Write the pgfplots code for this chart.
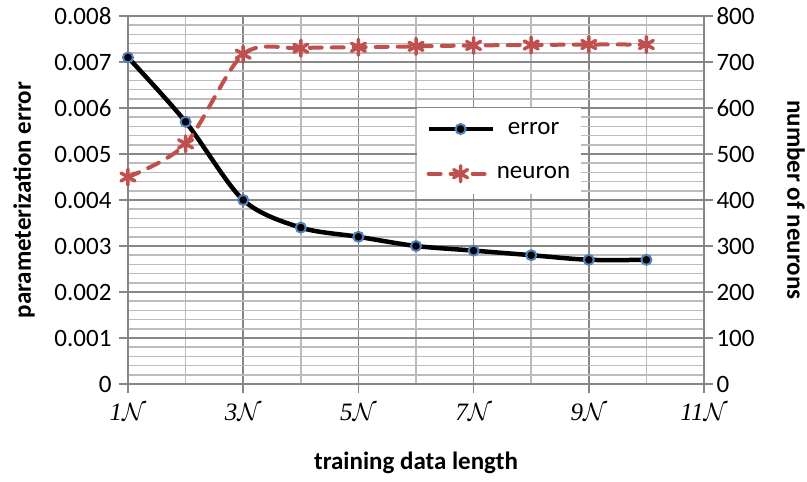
\documentclass[border=0pt]{standalone}
\usepackage{pgfplots}
\pgfplotsset{compat=1.18}
\usepackage{fontspec}
\setmainfont{Carlito}
\newfontfamily\serifr{Liberation Serif}
\definecolor{majgrid}{RGB}{134,134,134}
\definecolor{mingrid}{RGB}{188,188,188}
\definecolor{eblue}{RGB}{79,129,189}
\definecolor{nred}{RGB}{192,80,77}
\newcommand{\xl}[1]{{\serifr\itshape #1}$\mathcal{N}$}
\begin{document}
\begin{tikzpicture}
\pgfplotsset{
  every axis/.append style={
    scale only axis, width=576pt, height=368pt,
    xmin=1, xmax=11, clip=false,
    font=\fontsize{25}{29}\selectfont,
    /pgf/number format/assume math mode=true,
    axis line style={majgrid, line width=1.5pt},
    tick style={majgrid, line width=1.5pt},
    tick align=outside, major tick length=9pt, minor tick length=0pt,
  },
  errstyle/.style={black, line width=4.5pt, smooth, mark=*, mark size=5pt,
    mark options={draw=eblue, fill=black, line width=2pt}},
  neustyle/.style={nred, line width=4pt, dash pattern=on 12pt off 10pt, line cap=round, smooth,
    mark=asterisk, mark size=8pt, mark options={solid, line width=3.5pt}},
}
\begin{axis}[
  ymin=0, ymax=0.008,
  ytick={0,0.001,0.002,0.003,0.004,0.005,0.006,0.007,0.008},
  yticklabels={0,0.001,0.002,0.003,0.004,0.005,0.006,0.007,0.008},
  minor y tick num=4,
  scaled y ticks=false,
  xtick={1,3,5,7,9,11},
  xticklabels={\xl{1},\xl{3},\xl{5},\xl{7},\xl{9},\xl{11}},
  minor xtick={2,4,6,8,10},
  xtick pos=bottom, ytick pos=left,
  yticklabel style={xshift=-4pt},
  xticklabel style={yshift=-7pt},
  grid=both,
  major grid style={majgrid, line width=1.5pt},
  minor grid style={mingrid, line width=1.5pt},
  xlabel={\bfseries training data length},
  ylabel={\bfseries parameterization error},
  xlabel style={at={(axis description cs:0.5,-0.2147)}, anchor=center},
  ylabel style={at={(axis description cs:-0.1806,0.5)}, anchor=center},
]
\addplot[errstyle] coordinates {
  (1,0.0071) (2,0.0057) (3,0.0040) (4,0.0034) (5,0.0032)
  (6,0.0030) (7,0.0029) (8,0.0028) (9,0.0027) (10,0.0027)
};
\end{axis}
\begin{axis}[
  axis x line=none, axis y line*=right,
  ymin=0, ymax=800, ytick={0,100,200,300,400,500,600,700,800},
  ylabel={\bfseries number of neurons},
  ylabel style={at={(axis description cs:1.1597,0.5)}, anchor=center, rotate=180},
  legend style={at={(rel axis cs:0.502,0.75)}, anchor=north west, draw=none, fill=white,
    font=\fontsize{25}{29}\selectfont, row sep=27pt, inner xsep=9pt, inner ysep=12pt},
  legend image code/.code={\draw[mark repeat=2, mark phase=2] plot coordinates {(0pt,0pt) (32pt,0pt) (64pt,0pt)};},
]
\addlegendimage{errstyle}
\addlegendentry{error}
\addplot[neustyle] coordinates {
  (1,450) (2,522) (3,717) (4,730) (5,732)
  (6,734) (7,736) (8,737) (9,738) (10,738)
};
\addlegendentry{neuron}
\end{axis}
\pgfresetboundingbox
\path (-128pt,-98pt) rectangle (679pt,384pt);
\end{tikzpicture}
\end{document}
